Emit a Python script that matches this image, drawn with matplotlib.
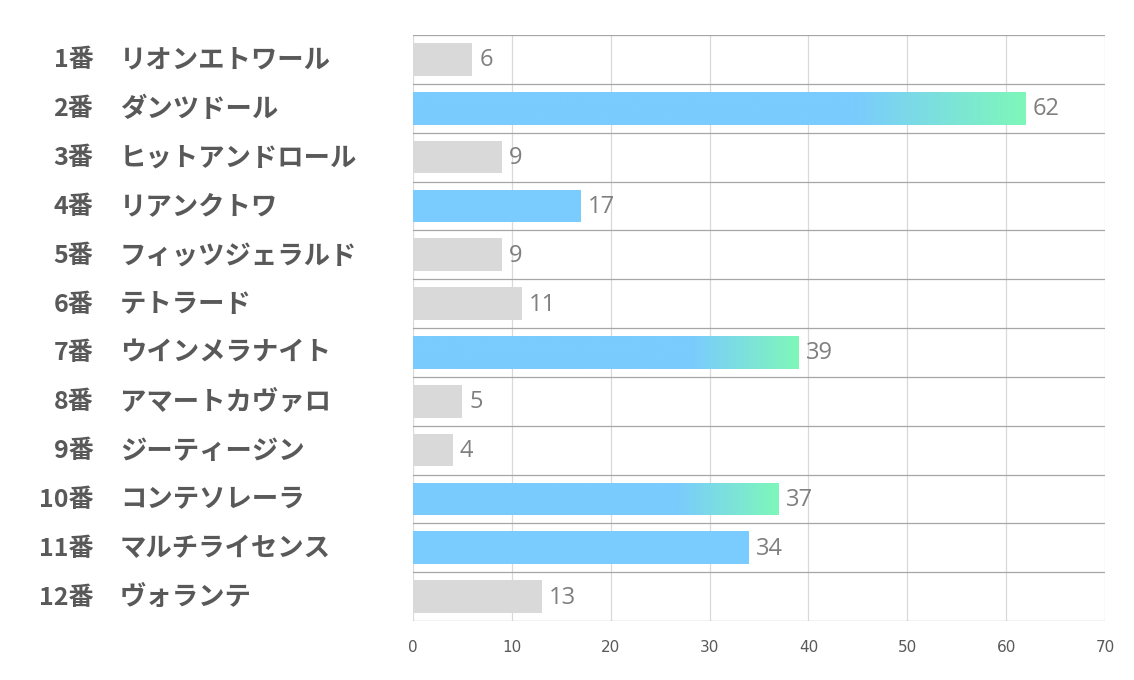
import matplotlib
matplotlib.use("Agg")
import matplotlib.pyplot as plt
import numpy as np
from matplotlib.colors import LinearSegmentedColormap

# horse numbers, names and values
numbers = ["1番", "2番", "3番", "4番", "5番", "6番", "7番", "8番", "9番", "10番", "11番", "12番"]
names = ["リオンエトワール", "ダンツドール", "ヒットアンドロール", "リアンクトワ", "フィッツジェラルド",
         "テトラード", "ウインメラナイト", "アマートカヴァロ", "ジーティージン", "コンテソレーラ",
         "マルチライセンス", "ヴォランテ"]
values = [6, 62, 9, 17, 9, 11, 39, 5, 4, 37, 34, 13]
highlight = [False, True, False, True, False, False, True, False, False, True, True, False]
xticks = [0, 10, 20, 30, 40, 50, 60, 70]

BLUE = "#7ACBFE"
GREEN = "#7EF7BA"
GRAY = "#D9D9D9"

fig = plt.figure(figsize=(11.34, 6.8), dpi=100)
ax = fig.add_axes([413/1134, 1-621/680, 692/1134, 586/680])

y = np.arange(len(values))
cols = [BLUE if h else GRAY for h in highlight]
bars = ax.barh(y, values, height=0.67, color=cols, zorder=2)

# gradient on the end of the long highlighted bars, clipped to the bar itself
cmap = LinearSegmentedColormap.from_list("bg", [BLUE, GREEN])
frac = np.linspace(0, 1, 400)
for i, v in enumerate(values):
    if highlight[i] and v > 35:
        g = np.clip((frac - 0.72) / 0.28, 0, 1).reshape(1, -1)
        im = ax.imshow(g, cmap=cmap, aspect="auto", zorder=3, vmin=0, vmax=1,
                       extent=[0, v, i + 0.4, i - 0.4], interpolation="bilinear")
        im.set_clip_path(bars[i])

ax.set_xlim(0, 70)
ax.set_ylim(11.5, -0.5)

# grid
for xt in xticks:
    ax.axvline(xt, color="#D9D9D9", lw=0.9, zorder=1)
for k in range(len(values)+1):
    ax.axhline(k-0.5, color="#A6A6A6", lw=0.9, zorder=1)

for s in ax.spines.values():
    s.set_visible(False)
ax.set_xticks(xticks)
ax.set_yticks([])
ax.tick_params(axis="x", length=0, pad=14, labelsize=11, labelcolor="#595959")

for i, v in enumerate(values):
    ax.text(v + 0.7, i + 0.02, str(v), va="center", ha="left", fontsize=17,
            color="#7F7F7F", family="Open Sans", zorder=4)

cjk = ["Noto Sans CJK JP", "DejaVu Sans"]
for i in range(len(values)):
    ax.text(-0.462, i + 0.02, numbers[i], transform=ax.get_yaxis_transform(), ha="right", va="center",
            fontsize=18, fontweight="bold", color="#595959", family=cjk)
    ax.text(-0.4234, i + 0.02, names[i], transform=ax.get_yaxis_transform(), ha="left", va="center",
            fontsize=19, fontweight="bold", color="#595959", family=cjk)

fig.savefig("out.png", dpi=100)
